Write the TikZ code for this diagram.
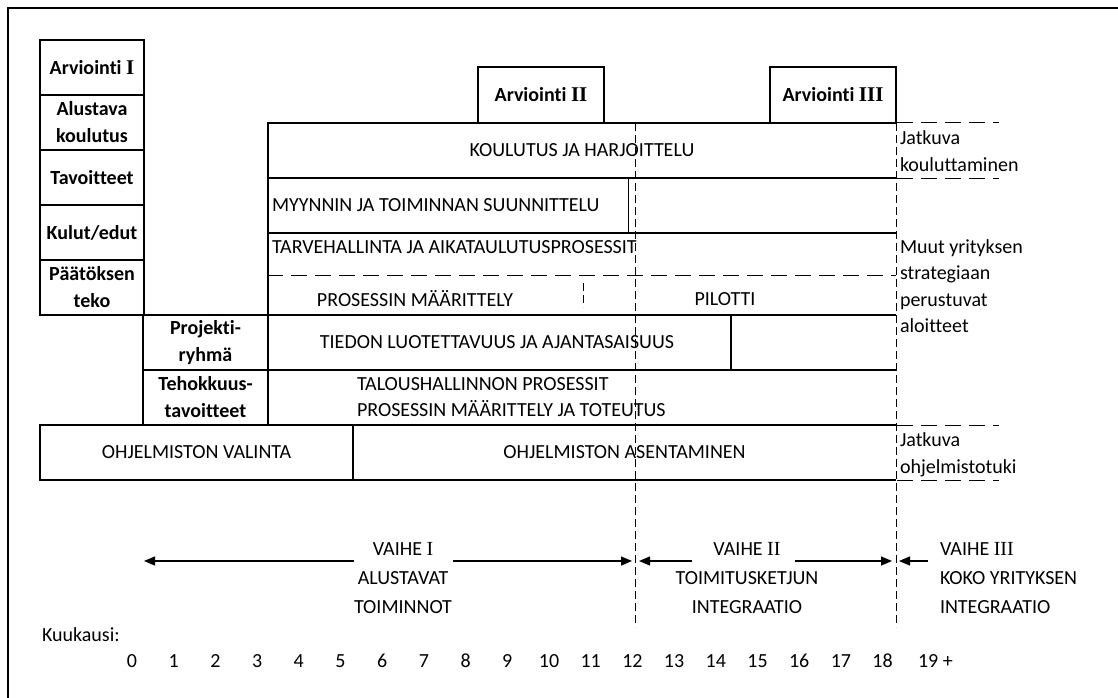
\documentclass[tikz,border=0pt]{standalone}
\usepackage{fontspec}
\setmainfont{Carlito}[Ligatures=NoCommon]
\newfontfamily\romfont{Liberation Serif}
\usetikzlibrary{arrows.meta, positioning}

\begin{document}
\begin{tikzpicture}[x=1pt, y=-1pt,
    every node/.style={font=\fontsize{20}{26.5}\selectfont, inner sep=0pt, outer sep=0pt},
    plainbox/.style={draw, line width=1.6pt, anchor=north west, align=center},
    cell/.style={plainbox, font=\fontsize{20}{27}\selectfont\bfseries},
    bar/.style={anchor=north west, minimum width=628pt, minimum height=55pt},
    rule/.style={line width=1.6pt},
    hdash/.style={line width=1pt, dash pattern=on 16pt off 8pt},
    vdash/.style={line width=1pt, dash pattern=on 8pt off 4pt},
    phase/.style={-{Triangle[length=11pt, width=9pt]}, line width=1.2pt},
    phasetext/.style={align=center, font=\fontsize{20}{29}\selectfont}]

  \useasboundingbox (0,0) rectangle (1118,698);
  % frame
  \draw[line width=2pt] (8,698) -- (8,8) -- (1118,8);

  % left column
  \node[cell, minimum width=104pt, minimum height=55pt] (arvA) at (40,40) {Arviointi {\romfont\fontsize{21}{27}\selectfont I}};
  \node[cell, minimum width=104pt, minimum height=55pt, below=0pt of arvA] (alus) {Alustava\\koulutus};
  \node[cell, minimum width=104pt, minimum height=55pt, below=0pt of alus] (tavo) {Tavoitteet};
  \node[cell, minimum width=104pt, minimum height=55pt, below=0pt of tavo] (kulu) {Kulut/edut};
  \node[cell, minimum width=104pt, minimum height=55pt, below=0pt of kulu] (paat) {P\"a\"at\"oksen\\teko};
  \node[cell, minimum width=125pt, minimum height=55pt] (proj) at (143,315) {Projekti-\\ryhm\"a};
  \node[cell, minimum width=125pt, minimum height=55pt, below=0pt of proj] (teho) {Tehokkuus-\\tavoitteet};

  % evaluation boxes
  \node[cell, minimum width=126pt, minimum height=56pt] (arvB) at (478,67) {Arviointi {\romfont\fontsize{21}{27}\selectfont II}};
  \node[cell, minimum width=126pt, minimum height=56pt] (arvC) at (770,67) {Arviointi {\romfont\fontsize{21}{27}\selectfont III}};

  % main rows
  \node[bar] (koul) at (268,123) {KOULUTUS JA HARJOITTELU};
  \node[bar, below=0pt of koul] (myyn) {};
  \node[bar, below=0pt of myyn, minimum height=82pt] (tarv) {};
  \node[bar, below=0pt of tarv] (tied) {};
  \node[bar, below=0pt of tied] (talo) {};
  \node[plainbox, minimum width=313pt, minimum height=55pt] (ohjv) at (40,425) {OHJELMISTON VALINTA};
  \node[bar, minimum width=543pt] (ohja) at (353,425) {OHJELMISTON ASENTAMINEN};

  \draw[rule] (koul.north east) -- (koul.north west) -- (talo.south west);
  \foreach \r in {koul,myyn,tarv,tied,talo,ohja}
    \draw[rule] (\r.south west) -- (\r.south east);
  \draw[line width=1pt] (628,178) -- (628,233);
  \draw[rule] (731,315) -- (731,370);

  \node[anchor=west] (myyntxt) at ([xshift=4pt]myyn.west) {MYYNNIN JA TOIMINNAN SUUNNITTELU};
  \node[anchor=west] (tarvtxt) at (272,247) {TARVEHALLINTA JA AIKATAULUTUSPROSESSIT};
  \node (prosm) at (415,299) {PROSESSIN M\"A\"ARITTELY};
  \node (pilot) at (725,299) {PILOTTI};
  \node (tiedtxt) at (497,342) {TIEDON LUOTETTAVUUS JA AJANTASAISUUS};
  \node[anchor=west, align=left] (talotxt) at (357,397) {TALOUSHALLINNON PROSESSIT\\PROSESSIN M\"A\"ARITTELY JA TOTEUTUS};

  % dashed lines
  \draw[hdash] (267,275) -- (896,275);
  \draw[vdash] (583,283) -- (583,307);
  \draw[vdash] (635,123) -- (635,627);
  \draw[vdash] (896,123) -- (896,627);
  \foreach \y in {123,178,425,480}
    \draw[hdash] (897,\y) -- (999,\y);

  % right side notes
  \node[anchor=west, align=left] (jatk) at (900,151) {Jatkuva\\kouluttaminen};
  \node[anchor=west, align=left] (muut) at (900,286) {Muut yrityksen\\strategiaan\\perustuvat\\aloitteet};
  \node[anchor=west, align=left] (tuki) at (900,455) {Jatkuva\\ohjelmistotuki};

  % phases
  \node[phasetext] (ph1) at (403,578) {VAIHE {\romfont I}\\ALUSTAVAT\\TOIMINNOT};
  \node[phasetext] (ph2) at (747,578) {VAIHE {\romfont II}\\TOIMITUSKETJUN\\INTEGRAATIO};
  \node[phasetext, anchor=west, align=left] (ph3) at (940,578) {VAIHE {\romfont III}\\KOKO YRITYKSEN\\INTEGRAATIO};

  \coordinate (t0) at (144,561);
  \coordinate (t12l) at (632,561);
  \coordinate (t12r) at (639,561);
  \coordinate (t18l) at (892,561);
  \coordinate (t18r) at (899,561);
  \coordinate (p1a) at (354,561);
  \coordinate (p1b) at (453,561);
  \coordinate (p2a) at (692,561);
  \coordinate (p2b) at (795,561);
  \coordinate (p3a) at (928,561);
  \draw[phase] (p1a) -- (t0);
  \draw[phase] (p1b) -- (t12l);
  \draw[phase] (p2a) -- (t12r);
  \draw[phase] (p2b) -- (t18l);
  \draw[phase] (p3a) -- (t18r);

  % month axis
  \node[anchor=west] (kk) at (42,635) {Kuukausi:};
  \foreach \m in {0,...,18}
    \node (m\m) at ({132+41.7*\m},661) {\m};
  \node[anchor=west] (m19) at (918,661) {19 +};
\end{tikzpicture}
\end{document}
